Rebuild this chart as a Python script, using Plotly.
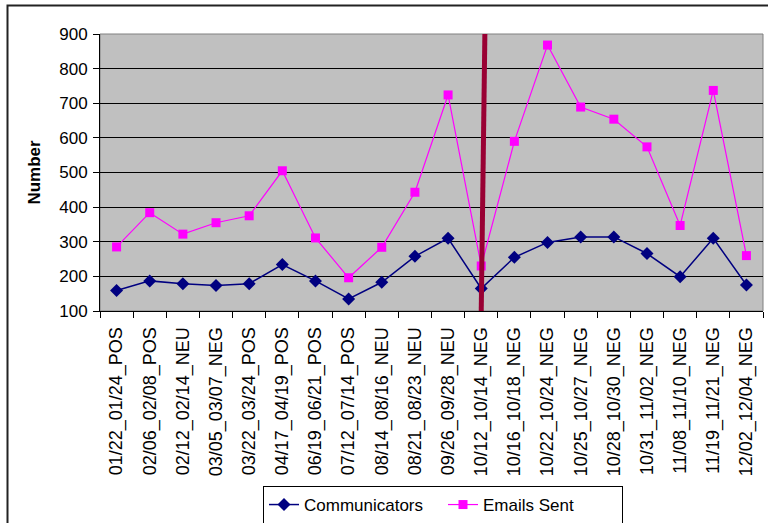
import plotly.graph_objects as go

categories = ["01/22_01/24_POS", "02/06_02/08_POS", "02/12_02/14_NEU", "03/05_03/07_NEG",
              "03/22_03/24_POS", "04/17_04/19_POS", "06/19_06/21_POS", "07/12_07/14_POS",
              "08/14_08/16_NEU", "08/21_08/23_NEU", "09/26_09/28_NEU", "10/12_10/14_NEG",
              "10/16_10/18_NEG", "10/22_10/24_NEG", "10/25_10/27_NEG", "10/28_10/30_NEG",
              "10/31_11/02_NEG", "11/08_11/10_NEG", "11/19_11/21_NEG", "12/02_12/04_NEG"]
communicators = [159, 187, 179, 174, 179, 234, 187, 135, 183, 258,
                 310, 165, 255, 298, 314, 314, 266, 199, 310, 175]
emails_sent = [285, 384, 322, 355, 375, 505, 311, 196, 284, 443,
               724, 230, 590, 868, 689, 654, 574, 347, 737, 260]
y_ticks = [100, 200, 300, 400, 500, 600, 700, 800, 900]
marker_category = "10/12_10/14_NEG"

W, H = 768, 523
L, R, T, B = 100, 5, 34, 212
pw, ph = W - L - R, H - T - B

def px_x(p):
    return (p - L) / pw

def px_y(p):
    return (H - B - p) / ph

FONT = "Arial, Liberation Sans, sans-serif"

fig = go.Figure()
fig.add_trace(go.Scatter(
    x=categories, y=communicators, name="Communicators", mode="lines+markers",
    line=dict(color="#000080", width=1.5),
    marker=dict(symbol="diamond", size=10, color="#000080"),
))
fig.add_trace(go.Scatter(
    x=categories, y=emails_sent, name="Emails Sent", mode="lines+markers",
    line=dict(color="#FF00FF", width=1.2),
    marker=dict(symbol="square", size=9, color="#FF00FF"),
))

mi = categories.index(marker_category)
fig.add_shape(type="line", xref="x", yref="y", x0=mi, x1=mi + 0.11,
              y0=y_ticks[0], y1=y_ticks[-1], line=dict(color="#990033", width=5), layer="above")

# plot area border (gray)
fig.add_shape(type="rect", xref="paper", yref="paper", x0=0, x1=1, y0=0, y1=1,
              line=dict(color="#808080", width=1), layer="below")
# outer chart frame
fig.add_shape(type="rect", xref="paper", yref="paper",
              x0=px_x(7.5), x1=px_x(W + 10), y0=px_y(H + 10), y1=px_y(5.5),
              line=dict(color="#222222", width=2), layer="below")

fig.update_layout(
    width=W, height=H,
    margin=dict(l=L, r=R, t=T, b=B, pad=0, autoexpand=False),
    paper_bgcolor="white", plot_bgcolor="#C0C0C0",
    font=dict(family=FONT, size=17, color="black"),
    showlegend=True,
    legend=dict(orientation="h", x=px_x(263), y=px_y(486), xanchor="left", yanchor="top",
                bordercolor="black", borderwidth=1, bgcolor="white",
                font=dict(size=17, family=FONT), itemwidth=30, tracegroupgap=0,
                entrywidth=134, entrywidthmode="pixels"),
    xaxis=dict(type="category", range=[-0.5, len(categories) - 0.5], automargin=False,
               tickangle=-90, tickfont=dict(size=18), showgrid=False,
               ticks="outside", tickson="boundaries", ticklen=6, tickcolor="black",
               ticklabelstandoff=8,
               showline=True, linecolor="black", linewidth=1, zeroline=False),
    yaxis=dict(range=[y_ticks[0], y_ticks[-1]], tickvals=y_ticks, tickfont=dict(size=17),
               automargin=False,
               showgrid=True, gridcolor="black", gridwidth=1,
               ticks="outside", ticklen=6, tickcolor="black", ticklabelstandoff=2,
               showline=True, linecolor="black", linewidth=1, zeroline=False,
               title=dict(text="<b>Number</b>", font=dict(size=17), standoff=14)),
)

fig.write_html("out.html")
